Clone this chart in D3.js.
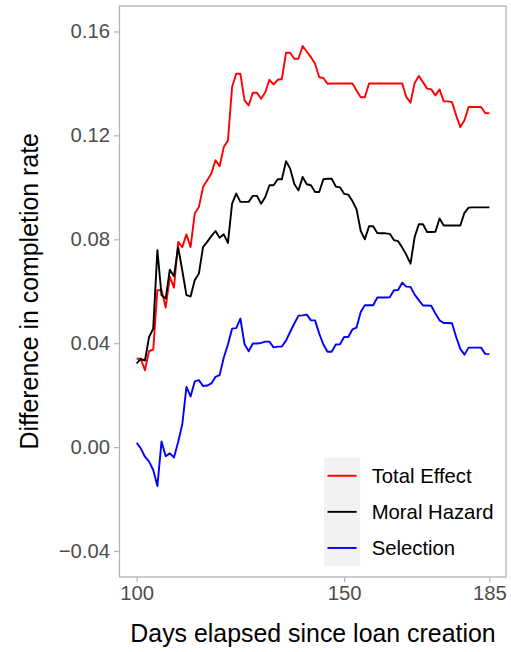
<!DOCTYPE html>
<html>
<head>
<meta charset="utf-8">
<script src="https://cdn.jsdelivr.net/npm/d3@7"></script>
<style>
  body { margin: 0; background: #fff; }
  text { font-family: "Liberation Sans", Arial, sans-serif; }
</style>
</head>
<body>
<div id="chart"></div>
<script>
// days since loan creation, one point per day
var days = d3.range(100, 186);

var totalEffect = [
  0.034, 0.034, 0.0296, 0.037, 0.0375, 0.0604, 0.0604, 0.0537, 0.0655, 0.0614,
  0.079, 0.077, 0.0819, 0.077, 0.0899, 0.0924, 0.1001, 0.1027, 0.1053, 0.1104,
  0.1081, 0.1155, 0.118, 0.1386, 0.1437, 0.1437, 0.1335, 0.1315, 0.1364, 0.1364,
  0.1341, 0.1366, 0.1414, 0.1396, 0.1414, 0.1417, 0.1518, 0.1518, 0.1495, 0.1495,
  0.1544, 0.1522, 0.1501, 0.1476, 0.1424, 0.1421, 0.1399, 0.14, 0.14, 0.14,
  0.14, 0.14, 0.14, 0.1373, 0.1347, 0.1347, 0.14, 0.14, 0.14, 0.14,
  0.14, 0.14, 0.14, 0.14, 0.14, 0.1347, 0.1326, 0.1402, 0.1429, 0.1405,
  0.138, 0.1377, 0.1354, 0.1377, 0.1331, 0.1331, 0.1328, 0.1277, 0.1232, 0.1258,
  0.1309, 0.1309, 0.1309, 0.1309, 0.1286, 0.1285
];

var moralHazard = [
  0.0322, 0.034, 0.0333, 0.0424, 0.0456, 0.0758, 0.0585, 0.0572, 0.0683, 0.0658,
  0.077, 0.068, 0.0585, 0.058, 0.0642, 0.0668, 0.077, 0.079, 0.0812, 0.0832,
  0.0806, 0.0819, 0.0786, 0.0937, 0.0976, 0.0944, 0.0944, 0.0944, 0.0967, 0.0967,
  0.0937, 0.0963, 0.1008, 0.1008, 0.1031, 0.1031, 0.1101, 0.1072, 0.1013, 0.0988,
  0.104, 0.1012, 0.1008, 0.0982, 0.0982, 0.1031, 0.1033, 0.1033, 0.1003, 0.1,
  0.0975, 0.0972, 0.0947, 0.0915, 0.0832, 0.08, 0.085, 0.085, 0.0824, 0.0823,
  0.0823, 0.0821, 0.0797, 0.0793, 0.0768, 0.074, 0.0706, 0.0809, 0.0858, 0.0858,
  0.0828, 0.0828, 0.0829, 0.088, 0.0853, 0.0853, 0.0853, 0.0853, 0.0853, 0.0902,
  0.0922, 0.0923, 0.0923, 0.0923, 0.0923, 0.0923
];

var selection = [
  0.0017, -0.0005, -0.0037, -0.0056, -0.0088, -0.015, 0.0022, -0.0035, -0.0024, -0.004,
  0.002, 0.0087, 0.0232, 0.0195, 0.0253, 0.0258, 0.0235, 0.0237, 0.0245, 0.027,
  0.0277, 0.0345, 0.0395, 0.0456, 0.0458, 0.0495, 0.0396, 0.0369, 0.0399, 0.0399,
  0.0401, 0.0406, 0.0406, 0.0384, 0.0387, 0.0387, 0.041, 0.0444, 0.0476, 0.0506,
  0.0507, 0.051, 0.0488, 0.0488, 0.0437, 0.0395, 0.0367, 0.0367, 0.0395, 0.0396,
  0.0424, 0.0424, 0.0453, 0.046, 0.052, 0.0546, 0.0546, 0.0546, 0.0576, 0.0576,
  0.0576, 0.0577, 0.0604, 0.0605, 0.0633, 0.0618, 0.0617, 0.0587, 0.0566, 0.0545,
  0.0545, 0.0544, 0.0514, 0.0488, 0.0478, 0.0478, 0.0477, 0.0424, 0.0378, 0.0356,
  0.0383, 0.0383, 0.0383, 0.0383, 0.0359, 0.0358
];

var seriesNames = ["Total Effect", "Moral Hazard", "Selection"];
var seriesColors = ["#ff0000", "#000000", "#0000ff"];

var xTicks = [100, 150, 185];
var yTicks = [-0.04, 0, 0.04, 0.08, 0.12, 0.16];

var width = 511, height = 652;
var panel = {left: 119, right: 507, top: 5.5, bottom: 577};

var svg = d3.select("#chart")
  .append("svg")
  .attr("width", width)
  .attr("height", height);

var x = d3.scaleLinear()
  .domain([95.75, 189.25])
  .range([panel.left, panel.right]);

var y = d3.scaleLinear()
  .domain([-0.05, 0.17])
  .range([panel.bottom, panel.top]);

svg.append("rect")
  .attr("x", panel.left)
  .attr("y", panel.top)
  .attr("width", panel.right - panel.left)
  .attr("height", panel.bottom - panel.top)
  .attr("fill", "#fff");

// axes
var yAxis = svg.append("g")
  .attr("transform", "translate(" + panel.left + ",0)")
  .call(d3.axisLeft(y)
    .tickValues(yTicks)
    .tickSize(5)
    .tickPadding(4)
    .tickFormat(function(d){ return d3.format(".2f")(d).replace("-", "\u2212"); }));

var xAxis = svg.append("g")
  .attr("transform", "translate(0," + panel.bottom + ")")
  .call(d3.axisBottom(x)
    .tickValues(xTicks)
    .tickSize(5)
    .tickPadding(4));

[xAxis, yAxis].forEach(function(g){
  g.select(".domain").remove();
  g.selectAll(".tick line").attr("stroke", "#b3b3b3").attr("stroke-width", 1.2);
  g.selectAll(".tick text")
    .attr("fill", "#4d4d4d")
    .style("font-size", "20.3px")
    .style("font-family", "'Liberation Sans', Arial, sans-serif");
});

// lines
var line = d3.line()
  .x(function(d, i){ return x(days[i]); })
  .y(function(d){ return y(d); });

[totalEffect, moralHazard, selection].forEach(function(vals, k){
  svg.append("path")
    .datum(vals)
    .attr("fill", "none")
    .attr("stroke", seriesColors[k])
    .attr("stroke-width", 1.9)
    .attr("stroke-linejoin", "round")
    .attr("d", line);
});

// panel border
svg.append("rect")
  .attr("x", panel.left + 0.5)
  .attr("y", panel.top + 0.5)
  .attr("width", panel.right - panel.left - 1.5)
  .attr("height", panel.bottom - panel.top - 0.5)
  .attr("fill", "none")
  .attr("stroke", "#b3b3b3")
  .attr("stroke-width", 1.3);

// legend
var legend = svg.append("g")
  .attr("transform", "translate(324,457.7)");

var keySize = 36.1;

legend.append("rect")
  .attr("width", keySize)
  .attr("height", keySize * seriesNames.length)
  .attr("fill", "#f2f2f2");

seriesNames.forEach(function(name, i){
  var cy = keySize * i + keySize / 2;
  legend.append("line")
    .attr("x1", 3.5)
    .attr("x2", keySize - 3.5)
    .attr("y1", cy)
    .attr("y2", cy)
    .attr("stroke", seriesColors[i])
    .attr("stroke-width", 1.9);
  legend.append("text")
    .attr("x", 47.7)
    .attr("y", cy)
    .attr("dy", "0.35em")
    .attr("fill", "#000")
    .style("font-size", "20.3px")
    .text(name);
});

// axis titles
svg.append("text")
  .attr("x", (panel.left + panel.right) / 2)
  .attr("y", 642)
  .attr("text-anchor", "middle")
  .attr("fill", "#000")
  .style("font-size", "24.9px")
  .text("Days elapsed since loan creation");

svg.append("text")
  .attr("transform", "translate(37.5," + ((panel.top + panel.bottom) / 2) + ") rotate(-90)")
  .attr("text-anchor", "middle")
  .attr("fill", "#000")
  .style("font-size", "24.9px")
  .text("Difference in completion rate");
</script>
</body>
</html>
